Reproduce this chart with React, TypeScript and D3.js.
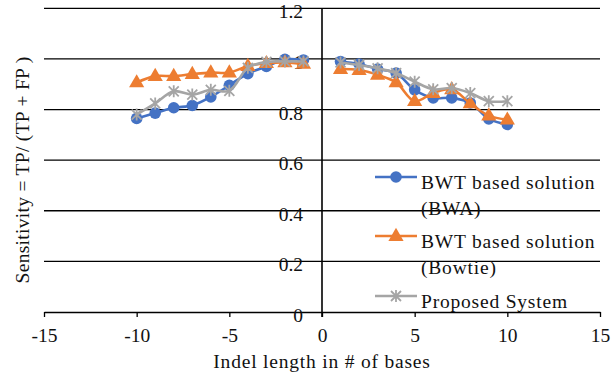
import React, { useEffect, useRef } from "react";
import * as d3 from "d3";

// data
const lengths = [-10, -9, -8, -7, -6, -5, -4, -3, -2, -1, 1, 2, 3, 4, 5, 6, 7, 8, 9, 10];
const bwa = [0.765, 0.786, 0.807, 0.816, 0.85, 0.896, 0.942, 0.97, 0.998, 0.996, 0.99, 0.98, 0.96, 0.944, 0.878, 0.846, 0.846, 0.826, 0.763, 0.741];
const bowtie = [0.907, 0.932, 0.932, 0.94, 0.946, 0.946, 0.972, 0.983, 0.986, 0.98, 0.96, 0.956, 0.937, 0.907, 0.833, 0.865, 0.88, 0.824, 0.776, 0.76];
const proposed = [0.78, 0.824, 0.872, 0.859, 0.878, 0.874, 0.965, 0.988, 0.99, 0.99, 0.986, 0.976, 0.963, 0.944, 0.91, 0.88, 0.885, 0.865, 0.833, 0.833];
const seriesNames = [["BWT based solution", "(BWA)"], ["BWT based solution", "(Bowtie)"], ["Proposed System"]];
const xTicks = [-15, -10, -5, 0, 5, 10, 15];
const yTicks = [0, 0.2, 0.4, 0.6, 0.8, 1, 1.2];

const FONT = "'Liberation Serif', 'Times New Roman', serif";

const App = () => {
  const ref = useRef<SVGSVGElement | null>(null);

  useEffect(() => {
    const svg = d3.select(ref.current);
    svg.selectAll("*").remove();

    const x = d3.scaleLinear().domain([-15, 15]).range([44, 600]);
    const y = d3.scaleLinear().domain([0, 1.2]).range([312, 8.3]);

    // gridlines
    svg
      .append("g")
      .selectAll("line")
      .data(yTicks.filter((d) => d > 0))
      .enter()
      .append("line")
      .attr("x1", x(-15))
      .attr("x2", x(15))
      .attr("y1", (d) => y(d))
      .attr("y2", (d) => y(d))
      .attr("stroke", "#000")
      .attr("stroke-width", 1.3);

    // x axis
    const xAxis = svg
      .append("g")
      .attr("transform", `translate(0,${y(0)})`)
      .call(d3.axisBottom(x).tickValues(xTicks).tickSize(5).tickSizeOuter(0).tickFormat((d) => `${d}`));
    xAxis.select(".domain").attr("stroke", "#000").attr("stroke-width", 1.3);
    xAxis.selectAll("line").attr("stroke", "#000").attr("stroke-width", 1.3);
    xAxis
      .selectAll("text")
      .attr("font-family", FONT)
      .attr("font-size", 19.5)
      .attr("fill", "#111")
      .attr("y", 16);

    // y axis at x = 0
    svg
      .append("line")
      .attr("x1", x(0))
      .attr("x2", x(0))
      .attr("y1", y(1.2))
      .attr("y2", y(0) + 5)
      .attr("stroke", "#000")
      .attr("stroke-width", 1.6);
    svg
      .append("g")
      .selectAll("text")
      .data(yTicks)
      .enter()
      .append("text")
      .attr("x", x(0) - 19)
      .attr("y", (d) => y(d) + 10)
      .attr("text-anchor", "end")
      .attr("font-family", FONT)
      .attr("font-size", 19.5)
      .attr("fill", "#111")
      .text((d) => `${d}`);

    // axis titles
    svg
      .append("text")
      .attr("x", x(0))
      .attr("y", 368)
      .attr("text-anchor", "middle")
      .attr("font-family", FONT)
      .attr("font-size", 19.5)
      .attr("letter-spacing", 0.8)
      .attr("fill", "#111")
      .text("Indel length in # of bases");
    svg
      .append("text")
      .attr("transform", "rotate(-90)")
      .attr("x", -170)
      .attr("y", 29)
      .attr("text-anchor", "middle")
      .attr("font-family", FONT)
      .attr("font-size", 19.5)
      .attr("letter-spacing", 0.3)
      .attr("fill", "#111")
      .text("Sensitivity = TP/ (TP + FP )");

    // series
    const series = [
      { values: bwa, color: "#4472C4", marker: "circle" },
      { values: bowtie, color: "#ED7D31", marker: "triangle" },
      { values: proposed, color: "#A5A5A5", marker: "star" },
    ];

    const line = d3
      .line<[number, number]>()
      .x((d) => x(d[0]))
      .y((d) => y(d[1]))
      .curve(d3.curveCatmullRom.alpha(0.5));

    const drawMarker = (g: d3.Selection<SVGGElement, unknown, null, undefined>, kind: string, color: string, cx: number, cy: number) => {
      if (kind === "circle") {
        g.append("circle").attr("cx", cx).attr("cy", cy).attr("r", 5.8).attr("fill", color);
      } else if (kind === "triangle") {
        g.append("path")
          .attr("d", d3.symbol().type(d3.symbolTriangle).size(100)())
          .attr("transform", `translate(${cx},${cy + 0.5})`)
          .attr("fill", color);
      } else {
        const s = 5;
        g.append("path")
          .attr("d", `M${cx - s},${cy - s}L${cx + s},${cy + s}M${cx - s},${cy + s}L${cx + s},${cy - s}M${cx},${cy - s - 1}L${cx},${cy + s + 1}`)
          .attr("stroke", color)
          .attr("stroke-width", 1.8)
          .attr("fill", "none");
      }
    };

    series.forEach((s) => {
      const pts: [number, number][] = lengths.map((l, i) => [l, s.values[i]]);
      const segs = [pts.filter((p) => p[0] < 0), pts.filter((p) => p[0] > 0)];
      const g = svg.append("g");
      segs.forEach((seg) => {
        g.append("path")
          .datum(seg)
          .attr("fill", "none")
          .attr("stroke", s.color)
          .attr("stroke-width", 2.6)
          .attr("stroke-linejoin", "round")
          .attr("d", line);
      });
      pts.forEach((p) => drawMarker(g, s.marker, s.color, x(p[0]), y(p[1])));
    });

    // legend
    const legendRows = [177, 236, 296];
    series.forEach((s, i) => {
      const g = svg.append("g");
      const ly = legendRows[i];
      g.append("line")
        .attr("x1", 375)
        .attr("x2", 417)
        .attr("y1", ly)
        .attr("y2", ly)
        .attr("stroke", s.color)
        .attr("stroke-width", 2.6);
      drawMarker(g, s.marker, s.color, 396, ly);
      seriesNames[i].forEach((t, j) => {
        g.append("text")
          .attr("x", 421)
          .attr("y", ly + 12 + j * 26)
          .attr("font-family", FONT)
          .attr("font-size", 19.5)
          .attr("letter-spacing", 0.8)
          .attr("fill", "#111")
          .text(t);
      });
    });
  }, []);

  return (
    <div style={{ position: "absolute", left: 0, top: 0, background: "#fff" }}>
      <svg ref={ref} width={616} height={379} style={{ display: "block" }} />
    </div>
  );
};

export default App;
